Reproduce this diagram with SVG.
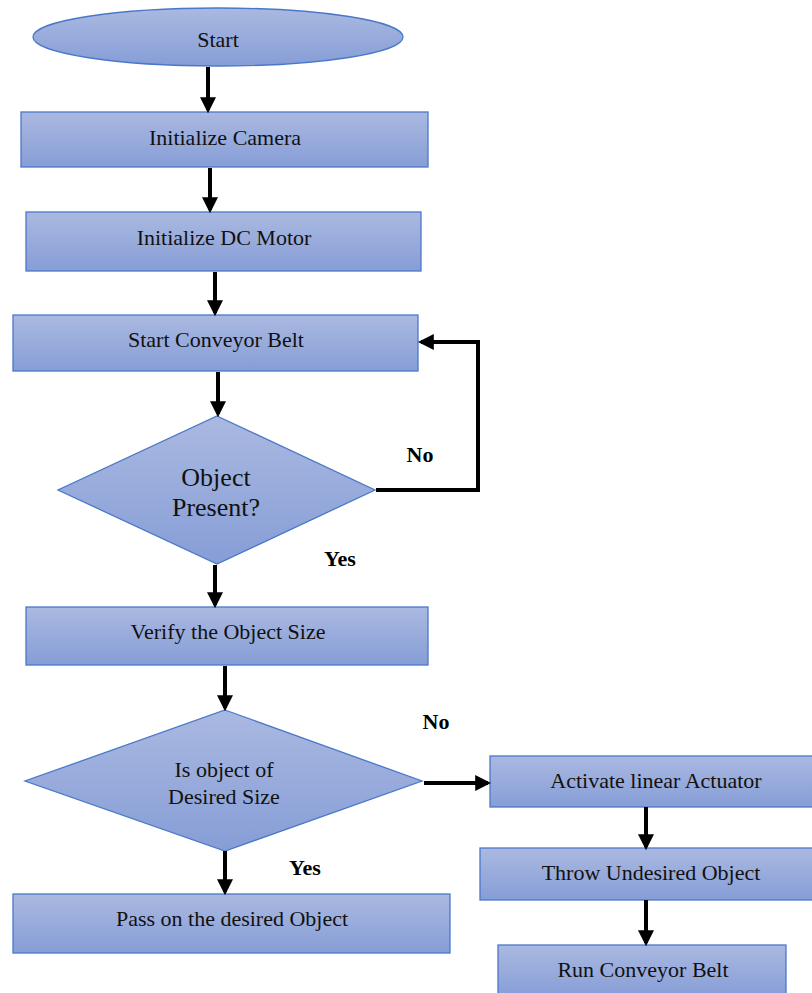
<svg xmlns="http://www.w3.org/2000/svg" width="812" height="993" viewBox="0 0 812 993">
<defs>
<linearGradient id="g" x1="0" y1="0" x2="0" y2="1">
<stop offset="0" stop-color="#aab9e1"/>
<stop offset="1" stop-color="#869dd6"/>
</linearGradient>
<marker id="ah" markerWidth="4" markerHeight="4" refX="3.2" refY="2" orient="auto" markerUnits="strokeWidth">
<path d="M0,0 L4,2 L0,4 Z" fill="#000"/>
</marker>
<style>
.n{fill:url(#g);stroke:#4a78c9;stroke-width:1.3}
.t{font-family:"Liberation Serif","DejaVu Serif",serif;font-size:22px;fill:#111;text-anchor:middle}
.b{font-family:"Liberation Serif","DejaVu Serif",serif;font-size:22px;font-weight:bold;fill:#000;text-anchor:middle}
.c{stroke:#000;stroke-width:4;fill:none}
</style>
</defs>
<rect width="812" height="993" fill="#fff"/>
<g id="start"><ellipse class="n" cx="218" cy="37" rx="185" ry="29"/><text class="t" x="218" y="47">Start</text></g>
<g id="camera"><rect class="n" x="21" y="112" width="407" height="55"/><text class="t" x="225" y="145">Initialize Camera</text></g>
<g id="motor"><rect class="n" x="26" y="212" width="395" height="59"/><text class="t" x="224" y="245">Initialize DC Motor</text></g>
<g id="conveyor"><rect class="n" x="13" y="315" width="405" height="56"/><text class="t" x="216" y="347">Start Conveyor Belt</text></g>
<g id="present"><polygon class="n" points="217,416 375,490 217,564 58,490"/><text class="t" x="216" y="486" style="font-size:26px">Object</text><text class="t" x="216" y="516" style="font-size:26px">Present?</text></g>
<g id="verify"><rect class="n" x="26" y="607" width="402" height="58"/><text class="t" x="228" y="639">Verify the Object Size</text></g>
<g id="size"><polygon class="n" points="225,710 422,781 225,851 25,781"/><text class="t" x="224" y="777">Is object of</text><text class="t" x="224" y="804">Desired Size</text></g>
<g id="actuator"><rect class="n" x="490" y="756" width="330" height="51"/><text class="t" x="656" y="788">Activate linear Actuator</text></g>
<g id="throw"><rect class="n" x="480" y="848" width="340" height="52"/><text class="t" x="651" y="880">Throw Undesired Object</text></g>
<g id="run"><rect class="n" x="498" y="945" width="288" height="52"/><text class="t" x="643" y="977">Run Conveyor Belt</text></g>
<g id="pass"><rect class="n" x="13" y="894" width="437" height="59"/><text class="t" x="232" y="926">Pass on the desired Object</text></g>
<g id="connectors">
<line class="c" x1="208" y1="67" x2="208" y2="110" marker-end="url(#ah)"/>
<line class="c" x1="210" y1="168" x2="210" y2="210" marker-end="url(#ah)"/>
<line class="c" x1="215" y1="272" x2="215" y2="313" marker-end="url(#ah)"/>
<line class="c" x1="218" y1="372" x2="218" y2="414" marker-end="url(#ah)"/>
<polyline class="c" points="376,490 478,490 478,342 421,342" marker-end="url(#ah)"/>
<line class="c" x1="215" y1="565" x2="215" y2="605" marker-end="url(#ah)"/>
<line class="c" x1="225" y1="666" x2="225" y2="708" marker-end="url(#ah)"/>
<line class="c" x1="424" y1="783" x2="488" y2="783" marker-end="url(#ah)"/>
<line class="c" x1="646" y1="807" x2="646" y2="847" marker-end="url(#ah)"/>
<line class="c" x1="646" y1="900" x2="646" y2="943" marker-end="url(#ah)"/>
<line class="c" x1="225" y1="851" x2="225" y2="892" marker-end="url(#ah)"/>
</g>
<g id="labels">
<text class="b" x="420" y="462">No</text>
<text class="b" x="340" y="566">Yes</text>
<text class="b" x="436" y="729">No</text>
<text class="b" x="305" y="875">Yes</text>
</g>
</svg>
